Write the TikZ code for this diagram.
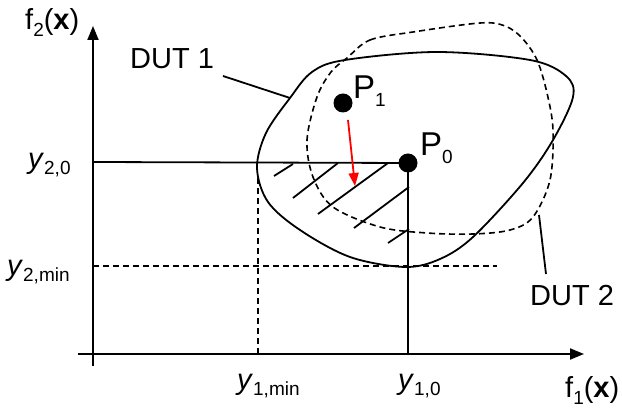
\documentclass[tikz,border=0pt]{standalone}
\usepackage{fontspec}
\setmainfont{Liberation Sans}
\usetikzlibrary{arrows.meta}
\newcommand\lsub[2][-6pt]{\raisebox{#1}{\fontsize{19}{20}\selectfont #2}}
\begin{document}
\begin{tikzpicture}[x=1pt,y=-1pt,
  lbl/.style={anchor=base west,inner sep=0pt,font=\fontsize{29}{32}\selectfont},
  plbl/.style={anchor=base west,inner sep=0pt,font=\fontsize{33}{36}\selectfont},
  axis/.style={line width=2pt,-{Triangle[length=14pt,width=11pt]}},
  thin/.style={line width=1.8pt},
  dsh/.style={line width=1.6pt,dash pattern=on 6pt off 4pt},
  dot/.style={circle,fill=black,inner sep=0pt,minimum size=19pt}]
\useasboundingbox (0,0) rectangle (622,411);
% axes
\coordinate (yb) at (93,366);
\coordinate (yt) at (93,26);
\coordinate (xl) at (78,354);
\coordinate (xr) at (584,354);
\draw[axis] (yb) -- (yt);
\draw[axis] (xl) -- (xr);
% points
\node[dot] (P0) at (408,163) {};
\node[dot] (P1) at (343,103) {};
\coordinate (y20) at (93,162);
\coordinate (x10) at (408,354);
\draw[thin] (y20) -- (P0.center);
\draw[thin] (P0.center) -- (x10);
% dashed min lines
\coordinate (y2m) at (93,266);
\coordinate (y2me) at (497,266);
\coordinate (x1m) at (258,354);
\coordinate (x1mt) at (258,175);
\draw[dsh] (y2m) -- (y2me);
\draw[dsh] (x1m) -- (x1mt);
% DUT 1
\draw[thin] plot[smooth cycle,tension=0.55] coordinates {
 (257,168) (266,133) (290,98) (312,72) (345,60) (437,52) (530,60) (566,76)
 (573,97) (553,140) (523,183) (473,237) (440,259) (405,267) (350,257) (300,230) (268,202)};
% DUT 2
\draw[dsh] plot[smooth cycle,tension=0.55] coordinates {
 (347,58) (370,40) (413,32) (480,23) (505,26) (522,38) (537,60) (547,93)
 (553,130) (550,180) (533,217) (510,230) (473,234) (427,233) (380,227) (333,207)
 (313,177) (307,140) (317,97) (331,72)};
% hatch
\foreach \a/\b/\c/\d in {274/176/293/164, 293/198/338/163, 318/214/388/163, 354/228/409/187, 388/243/409/229}
  \draw[thin] (\a,\b) -- (\c,\d);
% red arrow
\coordinate (ra) at (348,120);
\coordinate (rb) at (355,186);
\draw[red,line width=1.8pt,-{Triangle[length=13pt,width=10pt]}] (ra) -- (rb);
% leader lines
\coordinate (d1a) at (223,76);
\coordinate (d1b) at (290,98);
\draw[thin] (d1a) -- (d1b);
\coordinate (d2a) at (539,215);
\coordinate (d2b) at (546,274);
\draw[thin] (d2a) -- (d2b);
% labels
\node[lbl] (L1) at (130,69) {DUT 1};
\node[lbl] (L2) at (530,306) {DUT 2};
\node[plbl] (LP1) at (353,99) {P\lsub[-8pt]{1}};
\node[plbl] (LP0) at (420,156) {P\lsub[-8pt]{0}};
\node[lbl] (f2) at (25,30) {f\lsub[-7pt]{2}(\textbf{x})};
\node[lbl] (f1) at (565,398) {f\lsub[-7pt]{1}(\textbf{x})};
\node[lbl] (ly20) at (28,169) {\textit{y}\lsub{2,0}};
\node[lbl] (ly2m) at (7,276) {\textit{y}\lsub{2,min}};
\node[lbl] (ly1m) at (237,390) {\textit{y}\lsub{1,min}};
\node[lbl] (ly10) at (398,390) {\textit{y}\lsub{1,0}};
\end{tikzpicture}
\end{document}
